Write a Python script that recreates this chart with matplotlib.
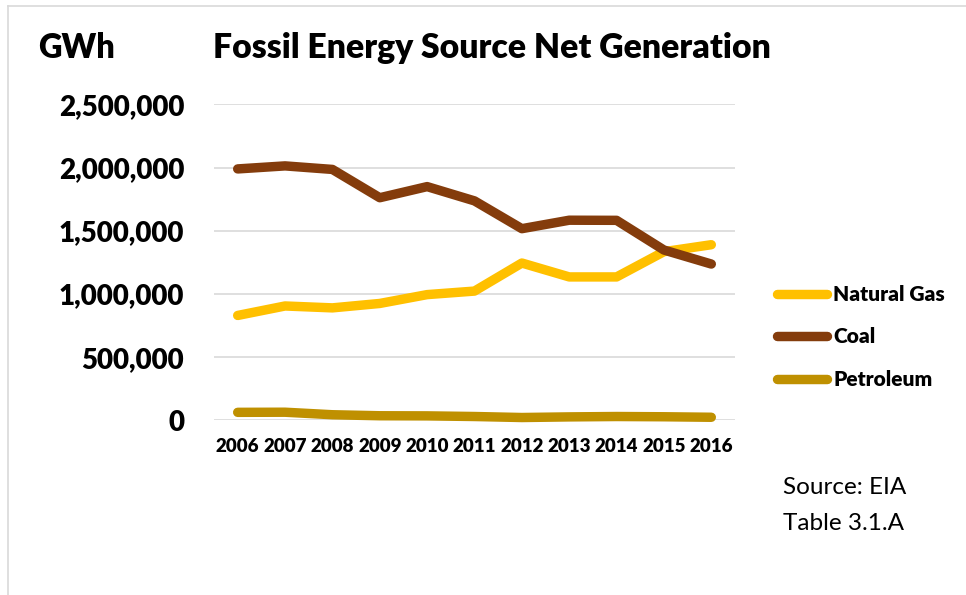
import matplotlib
matplotlib.use("Agg")
import matplotlib.pyplot as plt
from matplotlib.lines import Line2D

years = ["2006", "2007", "2008", "2009", "2010", "2011", "2012", "2013", "2014", "2015", "2016"]
natural_gas = [830000, 905000, 890000, 925000, 995000, 1023000, 1245000, 1135000, 1135000, 1335000, 1390000]
coal = [1990000, 2014000, 1986000, 1762000, 1850000, 1737000, 1517000, 1584000, 1583000, 1348000, 1237000]
petroleum = [63000, 64000, 44000, 36000, 35000, 30000, 22000, 27000, 30000, 28000, 24000]
series_names = ["Natural Gas", "Coal", "Petroleum"]
series_colors = ["#FFC000", "#843C0C", "#BF9000"]
y_ticks = [0, 500000, 1000000, 1500000, 2000000, 2500000]
y_tick_labels = ["0", "500,000", "1,000,000", "1,500,000", "2,000,000", "2,500,000"]

plt.rcParams['font.family'] = ['Lato', 'DejaVu Sans']

W, H = 966, 595
fig = plt.figure(figsize=(W / 100, H / 100), dpi=100)

ax = fig.add_axes([214 / W, (H - 420.3) / H, (735 - 214) / W, (420.3 - 104.5) / H])
x = list(range(len(years)))
for vals, name, col in zip([natural_gas, coal, petroleum], series_names, series_colors):
    ax.plot(x, vals, color=col, lw=6.8, solid_capstyle='round', solid_joinstyle='round',
            label=name, clip_on=False, zorder=3)

ax.set_ylim(0, 2500000)
ax.set_xlim(-0.5, len(years) - 0.5)
ax.set_yticks(y_ticks)
ax.set_yticklabels(y_tick_labels, fontsize=20, fontweight='heavy')
ax.set_xticks(x)
ax.set_xticklabels(years, fontsize=13.5, fontweight='heavy')
ax.tick_params(axis='y', length=0, pad=21.5)
ax.tick_params(axis='x', length=0, pad=13)
ax.grid(axis='y', color='#D9D9D9', lw=1.2)
ax.set_axisbelow(True)
for s in ax.spines.values():
    s.set_visible(False)

# Titles
fig.text(38 / W, 1 - 48 / H, "GWh", fontsize=23.5, fontweight='heavy', va='center', ha='left')
fig.text(213 / W, 1 - 48 / H, "Fossil Energy Source Net Generation", fontsize=24.3,
         fontweight='heavy', va='center', ha='left')

# Legend
handles = [Line2D([0], [0], color=c, lw=6.8, solid_capstyle='round') for c in series_colors]
leg = fig.legend(handles, series_names, loc='center left', bbox_to_anchor=(776.5 / W, 1 - 337 / H),
                 frameon=False, prop={'size': 15, 'weight': 'heavy'}, handlelength=2.43,
                 handletextpad=0.3, labelspacing=1.12, borderpad=0, borderaxespad=0)

# Source
fig.text(783 / W, 1 - 487 / H, "Source: EIA", fontsize=17.5, va='center', ha='left')
fig.text(783 / W, 1 - 523 / H, "Table 3.1.A", fontsize=17.5, va='center', ha='left')

# Border lines
fig.add_artist(Line2D([7.5 / W, 7.5 / W], [0, 1 - 5.5 / H], color='#D9D9D9', lw=1.2, transform=fig.transFigure))
fig.add_artist(Line2D([7.5 / W, 1], [1 - 5.5 / H, 1 - 5.5 / H], color='#D9D9D9', lw=1.2, transform=fig.transFigure))

fig.savefig("out.png", dpi=100)
